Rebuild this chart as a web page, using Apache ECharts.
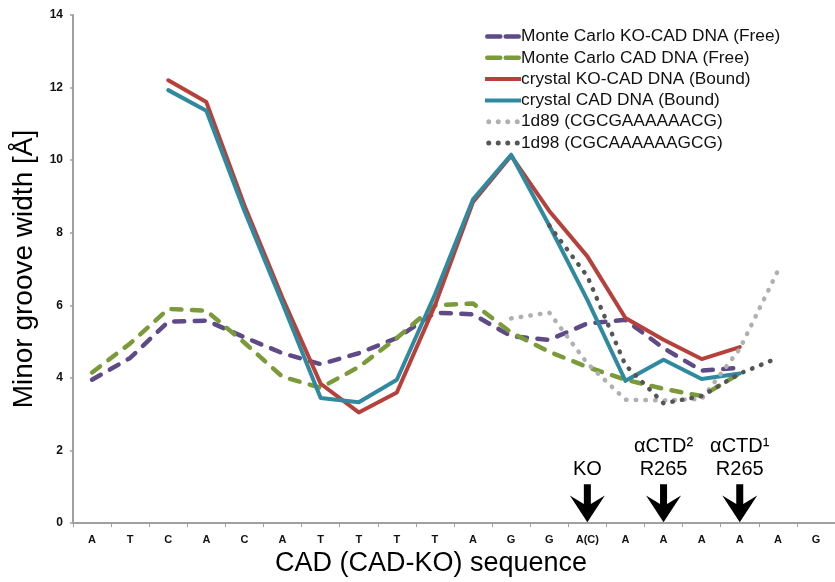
<!DOCTYPE html>
<html>
<head>
<meta charset="utf-8">
<script src="https://cdn.jsdelivr.net/npm/echarts@6/dist/echarts.min.js"></script>
<style>
  html, body { margin: 0; padding: 0; background: #fff; }
  #chart { width: 835px; height: 582px; }
</style>
</head>
<body>
<div id="chart"></div>
<script>
// ---- data ----
var categories = ['A','T','C','A','C','A','T','T','T','T','A','G','G','A(C)','A','A','A','A','A','G'];
var yTicks = [0, 2, 4, 6, 8, 10, 12, 14];

var mcKO   = [3.95, 4.55, 5.55, 5.58, 5.12, 4.68, 4.38, 4.68, 5.10, 5.80, 5.75, 5.15, 5.05, 5.50, 5.60, 4.82, 4.20, 4.28, null, null];
var mcCAD  = [4.15, 4.95, 5.90, 5.85, 4.97, 4.03, 3.73, 4.30, 5.10, 6.00, 6.05, 5.25, 4.72, 4.30, 3.95, 3.70, 3.50, 4.12, null, null];
var crKO   = [null, null, 12.20, 11.60, 8.75, 6.20, 3.84, 3.05, 3.60, 6.00, 8.85, 10.12, 8.60, 7.35, 5.65, 5.05, 4.52, 4.85, null, null];
var crCAD  = [null, null, 11.93, 11.36, 8.60, 6.05, 3.45, 3.33, 3.95, 6.30, 8.92, 10.15, 8.20, 6.15, 3.92, 4.50, 3.97, 4.12, null, null];
var d1d89  = [null, null, null, null, null, null, null, null, null, null, null, 5.64, 5.80, 4.40, 3.40, 3.38, 3.42, 4.80, 6.95, null];
var d1d98  = [null, null, null, null, null, null, null, null, null, null, null, null, 8.20, 6.80, 4.35, 3.30, 3.50, 4.12, 4.55, null];

var seriesNames = [
  'Monte Carlo KO-CAD DNA (Free)',
  'Monte Carlo CAD DNA (Free)',
  'crystal KO-CAD DNA (Bound)',
  'crystal CAD DNA (Bound)',
  '1d89 (CGCGAAAAAACG)',
  '1d98 (CGCAAAAAAGCG)'
];

// annotation arrows: category index, label text
var arrowIdx    = [13, 15, 17];
var arrowLabels = ['KO', 'αCTD²\nR265', 'αCTD¹\nR265'];
var arrowValue  = 0.55;

// ---- chart ----
var FONT = "'Liberation Sans', Arial, sans-serif";
var chart = echarts.init(document.getElementById('chart'), null, { renderer: 'canvas' });

function lineSeries(name, data, color, type, width) {
  return {
    name: name,
    type: 'line',
    data: data,
    showSymbol: false,
    symbol: 'none',
    connectNulls: false,
    animation: false,
    lineStyle: { color: color, width: width, type: type, cap: 'round', join: 'round' },
    itemStyle: { color: color }
  };
}

var dash = [10, 10.5];
var dots = [0.5, 9.2];

var series = [
  lineSeries(seriesNames[0], mcKO, '#5e4a87', dash, 4.5),
  lineSeries(seriesNames[1], mcCAD, '#7b9a3a', dash, 4.5),
  lineSeries(seriesNames[2], crKO, '#b8403a', 'solid', 4),
  lineSeries(seriesNames[3], crCAD, '#2f8aa0', 'solid', 4),
  lineSeries(seriesNames[4], d1d89, '#b0b0b0', dots, 4.5),
  lineSeries(seriesNames[5], d1d98, '#555555', dots, 4.5)
];

series[0].markPoint = {
  animation: false,
  symbol: 'path://M40,0 L60,0 L60,52 L100,30 L50,100 L0,30 L40,52 Z',
  symbolSize: [35, 38],
  symbolKeepAspect: false,
  itemStyle: { color: '#000' },
  label: {
    show: true,
    position: 'top',
    distance: 3,
    color: '#000',
    fontFamily: FONT,
    fontSize: 20,
    lineHeight: 23,
    align: 'center'
  },
  data: arrowIdx.map(function (idx, i) {
    return { coord: [idx, arrowValue], value: arrowLabels[i], label: { formatter: arrowLabels[i] } };
  })
};

// legend icons (aspect 36:5)
var iconDash  = 'path://M1,0 H15 A2.5,2.5 0 0,1 15,5 H1 A2.5,2.5 0 0,1 1,0 Z M21,0 H35 A2.5,2.5 0 0,1 35,5 H21 A2.5,2.5 0 0,1 21,0 Z';
var iconSolid = 'path://M0,0.5 H36 V4.5 H0 Z';
var iconDots  = 'path://M2.5,0 A2.5,2.5 0 1,1 2.5,5 A2.5,2.5 0 1,1 2.5,0 Z M12,0 A2.5,2.5 0 1,1 12,5 A2.5,2.5 0 1,1 12,0 Z M21.5,0 A2.5,2.5 0 1,1 21.5,5 A2.5,2.5 0 1,1 21.5,0 Z M31,0 A2.5,2.5 0 1,1 31,5 A2.5,2.5 0 1,1 31,0 Z';
var legendIcons = [iconDash, iconDash, iconSolid, iconSolid, iconDots, iconDots];

var option = {
  backgroundColor: '#ffffff',
  animation: false,
  textStyle: { fontFamily: FONT },
  grid: { left: 73, top: 15, width: 765, bottom: 53, containLabel: false },
  legend: {
    data: seriesNames.map(function (n, i) { return { name: n, icon: legendIcons[i] }; }),
    orient: 'vertical',
    left: 480,
    top: 23,
    itemWidth: 36,
    itemHeight: 5,
    itemGap: 4.3,
    textStyle: { fontFamily: FONT, fontSize: 17.3, lineHeight: 17, height: 17, color: '#111', padding: [0, 0, 0, -5] },
    selectedMode: false
  },
  xAxis: {
    type: 'category',
    data: categories,
    boundaryGap: true,
    name: 'CAD (CAD-KO) sequence',
    nameLocation: 'middle',
    nameGap: 24,
    nameTextStyle: { fontFamily: FONT, fontSize: 27, color: '#000', padding: [0, 46, 0, 0] },
    axisLine: { lineStyle: { color: '#a0a0a0', width: 2 } },
    axisTick: { show: true, length: 4, alignWithLabel: false, lineStyle: { color: '#a0a0a0', width: 1 } },
    axisLabel: { interval: 0, margin: 11, fontFamily: FONT, fontSize: 11, fontWeight: 'bold', color: '#111' },
    splitLine: { show: false }
  },
  yAxis: {
    type: 'value',
    min: yTicks[0],
    max: yTicks[yTicks.length - 1],
    interval: yTicks[1] - yTicks[0],
    name: 'Minor groove width [Å]',
    nameLocation: 'middle',
    nameGap: 35,
    nameRotate: 90,
    nameTextStyle: { fontFamily: FONT, fontSize: 28, color: '#000' },
    axisLine: { show: true, lineStyle: { color: '#a0a0a0', width: 2 } },
    axisTick: { show: true, length: 3, lineStyle: { color: '#a0a0a0', width: 1.5 } },
    axisLabel: { margin: 10, fontFamily: FONT, fontSize: 12, fontWeight: 'bold', color: '#111' },
    splitLine: { show: false }
  },
  series: series
};

chart.setOption(option);
</script>
</body>
</html>
